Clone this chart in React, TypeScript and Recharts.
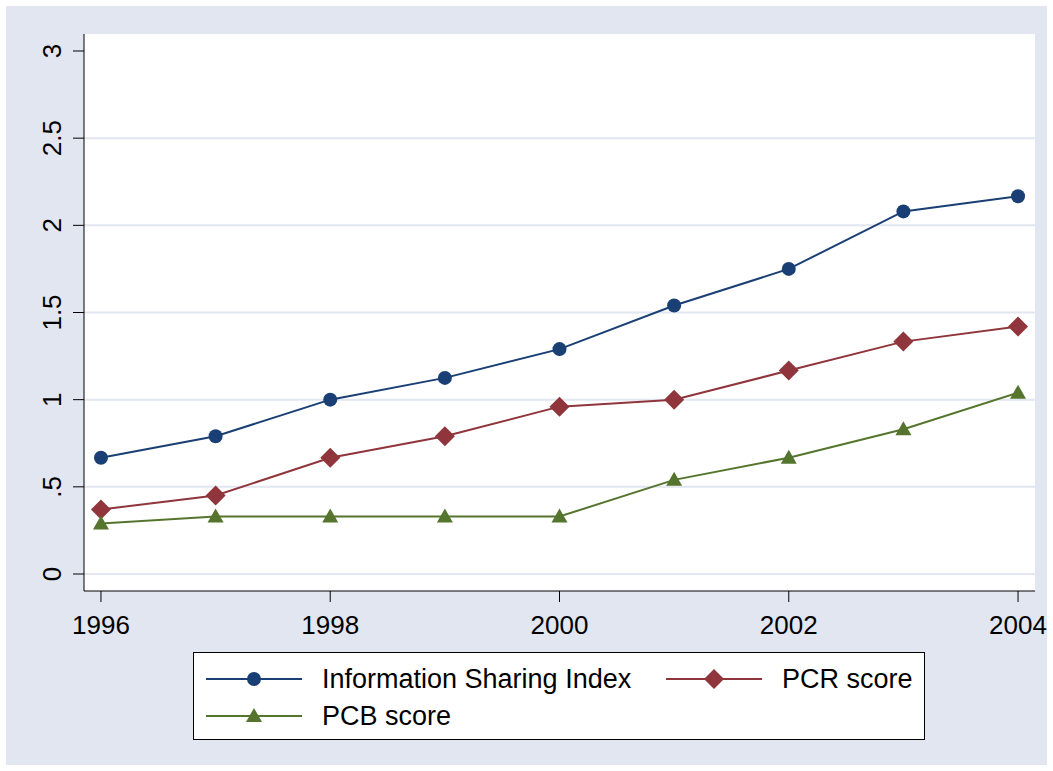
import React from 'react';
import { LineChart, Line, XAxis, YAxis, CartesianGrid } from 'recharts';

const years = [1996, 1997, 1998, 1999, 2000, 2001, 2002, 2003, 2004];
const infoSharing = [0.667, 0.79, 1.0, 1.125, 1.29, 1.54, 1.75, 2.08, 2.167];
const pcrScore = [0.37, 0.45, 0.667, 0.79, 0.96, 1.0, 1.167, 1.333, 1.42];
const pcbScore = [0.29, 0.33, 0.33, 0.33, 0.33, 0.54, 0.667, 0.83, 1.04];
const yTicks = [0, 0.5, 1, 1.5, 2, 2.5, 3];
const xTicks = [1996, 1998, 2000, 2002, 2004];

const NAVY = '#1a3f74';
const RED = '#90353b';
const GREEN = '#55752f';
const BG = '#e1e6f0';
const FONT = '"Liberation Sans", Arial, Helvetica, sans-serif';

const data = years.map((year, i) => ({
  year,
  isi: infoSharing[i],
  pcr: pcrScore[i],
  pcb: pcbScore[i],
}));

const fmtY = (v: number) => (v === 0.5 ? '.5' : String(v));

const CircleDot = (props: any) => {
  const { cx, cy } = props;
  if (cx == null || cy == null) return null;
  return <circle key={`c-${cx}`} cx={cx} cy={cy} r={7} fill={NAVY} />;
};

const DiamondDot = (props: any) => {
  const { cx, cy } = props;
  if (cx == null || cy == null) return null;
  const s = 10;
  return (
    <polygon
      key={`d-${cx}`}
      points={`${cx},${cy - s} ${cx + s},${cy} ${cx},${cy + s} ${cx - s},${cy}`}
      fill={RED}
    />
  );
};

const TriangleDot = (props: any) => {
  const { cx, cy } = props;
  if (cx == null || cy == null) return null;
  return (
    <polygon
      key={`t-${cx}`}
      points={`${cx},${cy - 8} ${cx + 8},${cy + 6} ${cx - 8},${cy + 6}`}
      fill={GREEN}
    />
  );
};

const YTick = (props: any) => {
  const { x, y, payload } = props;
  return (
    <text
      x={x - 10}
      y={y}
      transform={`rotate(-90, ${x - 10}, ${y})`}
      textAnchor="middle"
      fontSize={26}
      fontFamily={FONT}
      fill="#000"
    >
      {fmtY(payload.value)}
    </text>
  );
};

const XTick = (props: any) => {
  const { x, y, payload } = props;
  return (
    <text x={x} y={y + 30} textAnchor="middle" fontSize={26} fontFamily={FONT} fill="#000">
      {payload.value}
    </text>
  );
};

const LegendIcon = ({ color, shape }: { color: string; shape: string }) => (
  <svg width={96} height={20} style={{ display: 'block' }}>
    <line x1={0} y1={10} x2={96} y2={10} stroke={color} strokeWidth={2} />
    {shape === 'circle' && <circle cx={48} cy={10} r={7} fill={color} />}
    {shape === 'diamond' && <polygon points="48,0 58,10 48,20 38,10" fill={color} />}
    {shape === 'triangle' && <polygon points="48,2 56,16 40,16" fill={color} />}
  </svg>
);

const legendItems = [
  { label: 'Information Sharing Index', color: NAVY, shape: 'circle', left: 12, top: 16 },
  { label: 'PCR score', color: RED, shape: 'diamond', left: 472, top: 16 },
  { label: 'PCB score', color: GREEN, shape: 'triangle', left: 12, top: 53 },
];

const LegendBox = () => (
  <div
    style={{
      position: 'absolute',
      left: 193,
      top: 652,
      width: 730,
      height: 86,
      background: '#fff',
      border: '1px solid #000',
      fontFamily: FONT,
    }}
  >
    {legendItems.map((it) => (
      <div
        key={it.label}
        style={{ position: 'absolute', left: it.left, top: it.top, display: 'flex', alignItems: 'center' }}
      >
        <LegendIcon color={it.color} shape={it.shape} />
        <span style={{ marginLeft: 20, fontSize: 27, lineHeight: '20px', color: '#000' }}>{it.label}</span>
      </div>
    ))}
  </div>
);

export default function App() {
  return (
    <div style={{ position: 'relative', width: 1053, height: 771, background: '#fff' }}>
      <style>{`body{margin:0}`}</style>
      <div style={{ position: 'absolute', left: 6, top: 6, width: 1041, height: 759, background: BG }} />
      <div style={{ position: 'absolute', left: 84, top: 34, width: 951, height: 557, background: '#fff' }} />
      <div style={{ position: 'absolute', left: 0, top: 0 }}>
        <LineChart width={1053} height={771} data={data} margin={{ top: 34, right: 18, bottom: 120, left: 0 }}>
          <CartesianGrid
            horizontal
            vertical={false}
            stroke={BG}
            strokeWidth={2}
            horizontalValues={[0, 0.5, 1, 1.5, 2, 2.5]}
          />
          <XAxis
            dataKey="year"
            type="number"
            domain={[1995.852, 2004.148]}
            ticks={xTicks}
            allowDataOverflow
            height={60}
            tickSize={11}
            axisLine={{ stroke: '#000', strokeWidth: 1 }}
            tickLine={{ stroke: '#000', strokeWidth: 1 }}
            tick={<XTick />}
          />
          <YAxis
            type="number"
            domain={[-0.0975, 3.0975]}
            ticks={yTicks}
            allowDataOverflow
            width={84}
            tickSize={11}
            axisLine={{ stroke: '#000', strokeWidth: 1 }}
            tickLine={{ stroke: '#000', strokeWidth: 1 }}
            tick={<YTick />}
          />
          <Line dataKey="isi" stroke={NAVY} strokeWidth={2} dot={<CircleDot />} activeDot={false} isAnimationActive={false} />
          <Line dataKey="pcr" stroke={RED} strokeWidth={2} dot={<DiamondDot />} activeDot={false} isAnimationActive={false} />
          <Line dataKey="pcb" stroke={GREEN} strokeWidth={2} dot={<TriangleDot />} activeDot={false} isAnimationActive={false} />
        </LineChart>
      </div>
      <LegendBox />
    </div>
  );
}
